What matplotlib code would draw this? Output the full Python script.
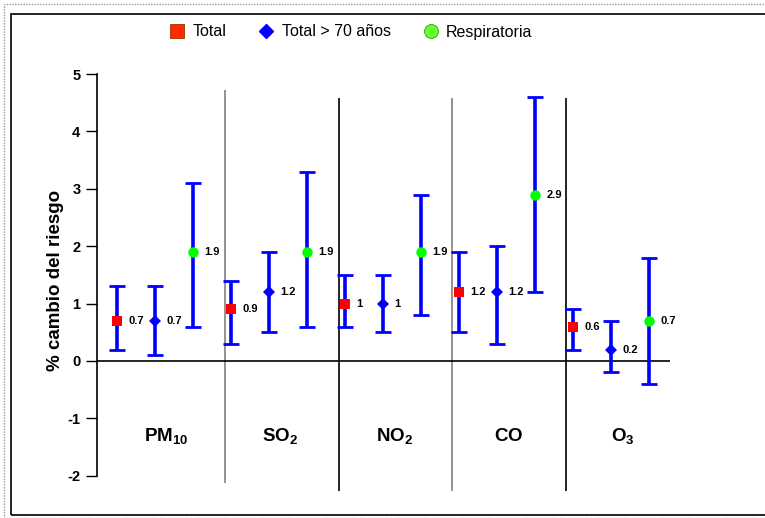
import matplotlib.pyplot as plt
import matplotlib.patches as patches

plt.rcParams["font.family"] = ["Liberation Sans", "DejaVu Sans"]
plt.rcParams["mathtext.fontset"] = "custom"
plt.rcParams["mathtext.rm"] = "Liberation Sans"
plt.rcParams["mathtext.bf"] = "Liberation Sans:bold"
plt.rcParams["axes.unicode_minus"] = False

# --- datos ---
contaminantes = [r"$\mathbf{PM}_{\mathbf{10}}$", r"$\mathbf{SO}_{\mathbf{2}}$",
                 r"$\mathbf{NO}_{\mathbf{2}}$", r"$\mathbf{CO}$", r"$\mathbf{O}_{\mathbf{3}}$"]
series = ["Total", "Total > 70 años", "Respiratoria"]

total = [0.7, 0.9, 1.0, 1.2, 0.6]
total_lo = [0.2, 0.3, 0.6, 0.5, 0.2]
total_hi = [1.3, 1.4, 1.5, 1.9, 0.9]

mayores = [0.7, 1.2, 1.0, 1.2, 0.2]
mayores_lo = [0.1, 0.5, 0.5, 0.3, -0.2]
mayores_hi = [1.3, 1.9, 1.5, 2.0, 0.7]

resp = [1.9, 1.9, 1.9, 2.9, 0.7]
resp_lo = [0.6, 0.6, 0.8, 1.2, -0.4]
resp_hi = [3.1, 3.3, 2.9, 4.6, 1.8]

etiquetas_y = [-2, -1, 0, 1, 2, 3, 4, 5]

# --- figura ---
W, H = 765, 518
fig = plt.figure(figsize=(W / 100, H / 100), dpi=100)

# marcos
fig.patches.append(patches.Rectangle((4 / W, 0), 1, 1 - 4 / H, transform=fig.transFigure,
                                     fill=False, edgecolor="#999999", linewidth=1,
                                     linestyle=(0, (1, 1)), zorder=0))
fig.patches.append(patches.Rectangle((11 / W, 3 / H), 1, 1 - 17 / H, transform=fig.transFigure,
                                     fill=False, edgecolor="black", linewidth=1.2, zorder=0))

# ejes en pixeles: punto 0 en x=117 px, 38 px por unidad; cero en y=361 px, 57.4 px por unidad
px_x, px_y = 38.0, 57.4
ax_left, ax_right = 97, 720
ylo, yhi = -2.4, 5.2
ax_top = 361 - yhi * px_y
ax_bot = 361 - ylo * px_y
ax = fig.add_axes([ax_left / W, 1 - ax_bot / H, (ax_right - ax_left) / W, (ax_bot - ax_top) / H])
xlo = (ax_left - 117) / px_x
xhi = (ax_right - 117) / px_x
ax.set_xlim(xlo, xhi)
ax.set_ylim(ylo, yhi)

estilos = [
    dict(marker="s", color="#ff0000", ms=7),
    dict(marker="D", color="#0000ff", ms=6.5),
    dict(marker="o", color="#00ff00", ms=7.5),
]
datos = [(total, total_lo, total_hi), (mayores, mayores_lo, mayores_hi), (resp, resp_lo, resp_hi)]

for j, (vals, lo, hi) in enumerate(datos):
    xs = [3 * i + j for i in range(len(vals))]
    err = [[v - l for v, l in zip(vals, lo)], [h - v for v, h in zip(vals, hi)]]
    eb = ax.errorbar(xs, vals, yerr=err, fmt="none", ecolor="#0000ff", elinewidth=2.6,
                     capsize=5.5, capthick=2, zorder=3)
    for cap in eb[1]:
        cap.set_color("#3333aa")
    st = estilos[j]
    ax.plot(xs, vals, linestyle="none", marker=st["marker"], color=st["color"],
            markersize=st["ms"], markeredgewidth=0, zorder=4)
    for x, v in zip(xs, vals):
        ax.text(x + 0.3, v, f"{v:g}", ha="left", va="center", fontsize=8,
                fontweight="bold", zorder=5)

# lineas separadoras entre grupos
sep_x = [2.84, 5.84, 8.82, 11.82]
sep_col = ["#808080", "black", "#808080", "black"]
for k, (sx, c) in enumerate(zip(sep_x, sep_col)):
    top = 4.72 if k == 0 else 4.58
    bot = -2.12 if k == 0 else -2.26
    ax.vlines(sx, bot, top, color=c, linewidth=1.2, zorder=1)

# linea del cero
ax.hlines(0, xlo, (670 - 117) / px_x, color="black", linewidth=1.2, zorder=2)

# nombres de contaminantes
for i, nombre in enumerate(contaminantes):
    ax.text(3 * i + 1.3, -1.4, nombre, ha="center", va="baseline", fontsize=13.5, zorder=5)

# ejes
for s in ["top", "right", "bottom"]:
    ax.spines[s].set_visible(False)
ax.spines["left"].set_bounds(-2, 5)
ax.spines["left"].set_linewidth(1.2)
ax.set_xticks([])
ax.set_yticks(etiquetas_y)
ax.tick_params(axis="y", direction="out", length=8, width=1, labelsize=10.5, pad=4)
for t in ax.get_yticklabels():
    t.set_fontweight("bold")
ax.set_ylabel("% cambio del riesgo", fontsize=13.5, fontweight="bold", labelpad=2)
ax.set_facecolor("none")

# leyenda
handles = [
    plt.Line2D([], [], linestyle="none", marker="s", color="#ff2a00", markeredgecolor="#993300",
               markeredgewidth=0.6, markersize=10),
    plt.Line2D([], [], linestyle="none", marker="D", color="#0000ff", markersize=7),
    plt.Line2D([], [], linestyle="none", marker="o", color="#66ff33", markeredgecolor="#339900",
               markeredgewidth=0.6, markersize=10),
]
fig.legend(handles, series, loc="center", bbox_to_anchor=(350 / W, 1 - 32 / H), ncol=3,
           frameon=False, fontsize=11.5, handletextpad=0.35, columnspacing=1.9,
           handlelength=1.2)

plt.savefig("out.png", dpi=100)
plt.close()
